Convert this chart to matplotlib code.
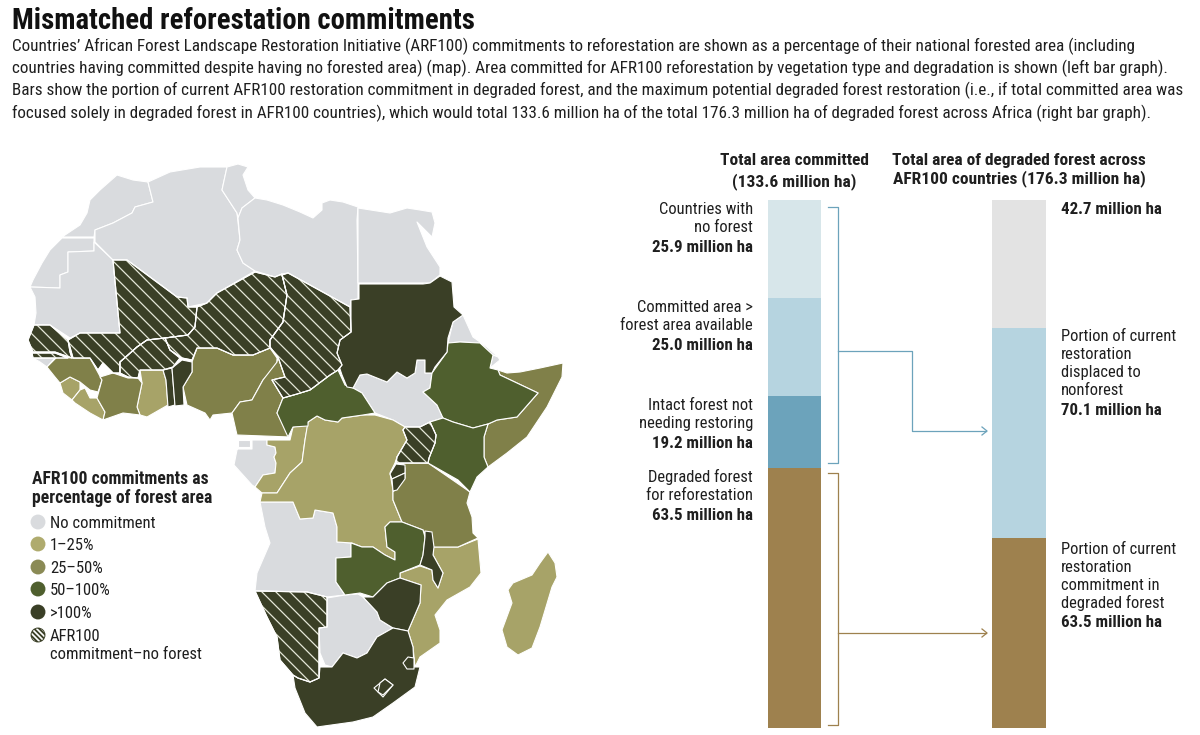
import numpy as np
import matplotlib
matplotlib.use("Agg")
import matplotlib.pyplot as plt
from matplotlib.collections import LineCollection
from matplotlib.patches import Polygon, Circle
from matplotlib.path import Path

plt.rcParams['font.family'] = ['Roboto Condensed', 'DejaVu Sans']

# bars: printed values and the heights as they are drawn in the picture
committed_labels = ["Countries with\nno forest", "Committed area >\nforest area available",
                    "Intact forest not\nneeding restoring", "Degraded forest\nfor reforestation"]
committed_printed = ["25.9 million ha", "25.0 million ha", "19.2 million ha", "63.5 million ha"]
committed_drawn = [24.8, 24.8, 18.2, 65.8]
committed_colors = ["#D7E6EA", "#B6D4E0", "#6CA3BB", "#9E814E"]

degraded_values = [42.7, 70.1, 63.5]
degraded_colors = ["#E3E3E3", "#B6D4E0", "#9E814E"]

# map outlines (pixel coords)
morocco = [(117,175),(100,190),(90,200),(87,213),(80,225),(62,237),(94,237),(95,230),(113,223),(132,213),(135,207),(153,202),(148,182),(133,180)]
w_sahara = [(62,238),(50,250),(42,263),(33,280),(30,287),(60,288),(60,275),(68,272),(68,252),(94,251),(94,238)]
mauritania = [(30,287),(35,297),(36,313),(34,325),(50,325),(70,338),(80,333),(120,333),(113,260),(94,242),(94,251),(68,252),(68,272),(60,275),(60,288)]
algeria = [(148,182),(170,172),(200,167),(227,167),(222,190),(237,213),(240,240),(237,250),(243,263),(255,271),(217,293),(207,303),(188,307),(187,298),(177,297),(127,260),(113,260),(95,242),(95,230),(113,223),(132,213),(135,207),(153,202)]
tunisia = [(227,167),(238,164),(248,167),(243,175),(248,190),(255,198),(242,208),(238,218),(237,213),(222,190)]
libya = [(255,198),(267,200),(283,205),(300,212),(313,218),(322,210),(322,203),(330,200),(343,202),(358,207),(357,220),(358,283),(358,299),(351,300),(350,307),(288,273),(282,274),(275,277),(255,271),(243,263),(237,250),(240,240),(238,218),(242,208)]
egypt = [(358,208),(390,213),(407,208),(420,210),(432,212),(435,223),(432,237),(417,222),(427,247),(440,267),(440,275),(430,283),(358,283)]
south_sudan = [(353,388),(360,375),(367,374),(377,378),(387,382),(397,372),(407,378),(415,373),(417,360),(425,360),(425,373),(432,373),(430,388),(423,392),(437,405),(443,418),(430,422),(420,427),(405,427),(393,420),(375,413),(362,393)]
eritrea = [(453,322),(463,315),(473,337),(487,347),(498,357),(493,355),(480,343),(460,342),(448,343)]
djibouti = [(493,355),(498,357),(500,360),(490,368)]
gabon = [(237,450),(234,465),(252,485),(255,487),(263,475),(275,473),(276,463),(274,457),(276,453),(275,447),(267,445),(267,440),(252,440),(252,449),(238,449)]
eq_guinea = [(238,440),(250,440),(250,447),(238,447)]
bissau = [(33,358),(55,358),(47,367),(40,362)]
angola = [(260,502),(293,502),(300,519),(313,518),(315,510),(333,513),(337,527),(337,542),(351,543),(351,557),(336,558),(336,582),(345,595),(327,597),(307,592),(255,591),(257,573),(270,543),(265,527)]
botswana = [(327,598),(345,595),(358,594),(363,597),(377,612),(380,620),(393,628),(377,637),(367,653),(357,658),(343,653),(332,667),(325,665),(320,653),(319,628),(327,627)]

guinea_sl = [(60,383),(70,377),(80,382),(80,390),(72,400),(63,393)]
liberia = [(72,400),(80,390),(85,388),(90,398),(97,398),(105,412),(103,420),(90,413),(75,403)]
ghana = [(140,370),(163,370),(166,380),(168,405),(147,417),(140,415),(137,407),(142,383)]
congo = [(255,487),(263,475),(275,473),(276,463),(274,457),(276,453),(275,447),(267,445),(267,440),(290,440),(293,427),(308,424),(305,440),(302,462),(290,473),(277,493),(270,493),(262,493)]
drc = [(308,422),(317,416),(325,420),(338,422),(342,418),(363,415),(375,415),(393,420),(405,427),(403,430),(407,440),(397,457),(395,463),(390,473),(393,490),(393,500),(402,522),(390,522),(385,527),(387,547),(395,552),(395,560),(385,555),(373,547),(362,547),(352,543),(337,542),(337,527),(333,513),(315,510),(313,518),(300,519),(293,502),(260,502),(262,493),(270,493),(277,493),(290,473),(302,462),(305,440)]
mozambique = [(433,547),(458,547),(478,539),(481,573),(470,587),(447,600),(435,615),(440,630),(440,643),(420,657),(415,667),(413,647),(408,631),(420,603),(421,585),(400,578),(400,573),(420,566),(432,570),(433,580),(438,588),(443,573),(433,555)]
madagascar = [(548,552),(555,563),(557,577),(552,587),(540,627),(532,648),(518,655),(507,647),(502,630),(512,603),(508,590),(513,583),(532,575),(540,563)]

guinea = [(47,367),(57,357),(73,358),(90,358),(95,367),(102,380),(98,392),(90,390),(80,382),(70,377),(60,383),(55,377)]
ivory_coast = [(97,398),(102,380),(100,377),(113,373),(128,378),(138,378),(142,383),(137,407),(140,415),(123,413),(103,420),(105,412)]
nigeria = [(192,362),(197,348),(217,348),(233,355),(253,355),(270,348),(277,358),(277,365),(263,380),(252,400),(240,402),(232,413),(213,415),(210,420),(205,413),(187,405),(183,387),(192,372)]
cameroon = [(278,357),(285,377),(272,380),(283,398),(277,413),(290,437),(237,435),(232,413),(240,402),(252,400),(263,380),(277,362)]
somalia = [(498,370),(507,373),(520,372),(540,368),(563,363),(562,377),(547,407),(527,437),(507,453),(488,467),(484,457),(484,437),(488,424),(497,420),(517,417),(538,393),(500,375)]
tanzania = [(403,463),(428,463),(470,492),(467,503),(472,517),(473,533),(478,538),(458,547),(433,547),(423,530),(402,522),(393,500),(393,492),(405,478),(405,468)]

car = [(283,398),(297,394),(310,390),(330,375),(338,370),(345,385),(353,388),(362,393),(375,413),(363,415),(342,418),(338,422),(325,420),(317,416),(308,422),(308,426),(293,427),(288,437),(277,413)]
ethiopia = [(448,343),(460,342),(480,343),(493,355),(490,368),(498,370),(500,375),(538,393),(517,417),(497,420),(488,424),(473,428),(453,422),(443,418),(437,405),(423,392),(430,388),(432,373),(447,352)]
kenya = [(430,422),(443,418),(453,422),(473,428),(488,424),(484,437),(484,457),(488,467),(477,477),(470,492),(458,480),(428,463),(429,458),(435,443),(436,435)]
zambia = [(351,543),(362,547),(373,547),(385,555),(395,560),(395,552),(387,547),(385,527),(390,522),(402,522),(423,530),(425,537),(423,555),(420,565),(400,573),(400,578),(387,583),(373,597),(360,593),(345,595),(336,582),(336,558),(351,557)]

sudan = [(359,284),(423,284),(430,283),(440,276),(452,282),(454,307),(463,315),(453,322),(448,338),(447,352),(435,367),(432,373),(425,373),(425,360),(417,360),(415,373),(407,378),(397,372),(387,382),(377,378),(367,374),(360,375),(353,388),(347,387),(342,375),(337,360),(337,353),(340,340),(351,332),(351,300),(359,299)]
togo = [(163,370),(172,368),(175,405),(168,407),(166,380)]
benin = [(172,368),(182,360),(192,362),(192,372),(183,387),(184,405),(175,406)]
rwanda = [(390,474),(396,464),(405,465),(405,473),(392,479)]
burundi = [(392,479),(405,473),(405,479),(397,490),(393,491)]
malawi = [(425,531),(432,532),(434,547),(433,555),(443,573),(438,588),(433,580),(432,570),(420,565),(423,555),(425,537)]
zimbabwe = [(363,597),(373,597),(387,583),(400,578),(421,585),(420,603),(408,631),(393,628),(380,620),(377,612)]
south_africa = [(319,678),(320,667),(332,667),(343,653),(357,658),(367,653),(377,637),(393,628),(408,631),(413,647),(414,667),(420,667),(415,687),(393,703),(373,717),(353,722),(317,727),(305,713),(295,688),(293,675),(298,678),(310,682)]
swaziland = [(403,663),(408,657),(414,658),(414,669),(407,669)]
lesotho = [(374,688),(385,679),(393,685),(383,697)]
lesotho_inner = [(380,683),(385,679),(393,685),(383,695),(378,692)]

senegal = [(28,340),(34,325),(50,325),(68,340),(70,352),(72,358),(55,352),(33,352)]
gambia_strip = [(32,353),(55,353),(68,358),(47,358),(33,358)]
mali = [(113,260),(127,260),(177,297),(187,298),(188,307),(197,307),(195,327),(188,335),(165,338),(147,340),(137,347),(128,355),(120,362),(120,373),(113,373),(103,363),(98,370),(90,358),(73,358),(68,340),(80,333),(120,333)]
burkina = [(120,362),(128,355),(137,347),(147,340),(165,338),(170,350),(180,358),(173,367),(163,370),(140,370),(138,378),(128,377),(120,373)]
niger = [(255,272),(275,277),(282,274),(287,295),(283,322),(270,340),(270,348),(253,355),(233,355),(217,348),(197,348),(192,360),(182,358),(170,350),(165,338),(188,335),(195,327),(197,307),(207,303),(217,293)]
chad = [(282,275),(288,273),(350,307),(351,332),(340,340),(337,353),(342,365),(338,370),(330,375),(310,390),(297,394),(283,398),(272,380),(285,377),(278,357),(270,347),(270,340),(283,322),(287,295)]
namibia = [(255,591),(307,592),(327,597),(327,627),(319,628),(319,678),(310,682),(298,678),(293,675),(280,660),(277,637),(267,617)]
uganda = [(405,427),(420,427),(430,422),(436,435),(435,443),(429,458),(428,463),(396,463),(397,457),(407,440),(403,430)]

no_commit = [morocco, w_sahara, mauritania, algeria, tunisia, libya, egypt, south_sudan, eritrea, djibouti,
             gabon, eq_guinea, bissau, angola, botswana]
pct_1_25 = [guinea_sl, liberia, ghana, congo, drc, mozambique, madagascar]
pct_25_50 = [guinea, ivory_coast, nigeria, cameroon, somalia, tanzania]
pct_50_100 = [car, ethiopia, kenya, zambia]
pct_over_100 = [sudan, togo, benin, rwanda, burundi, malawi, zimbabwe, south_africa, swaziland, lesotho, lesotho_inner]
no_forest = [senegal, gambia_strip, mali, burkina, niger, chad, namibia, uganda]

C_NONE, C_1, C_25, C_50, C_100 = "#D9DBDE", "#A7A368", "#808049", "#4F5F2E", "#3A3F26"

legend_labels = ["No commitment", "1–25%", "25–50%", "50–100%", ">100%", "AFR100\ncommitment–no forest"]

title = "Mismatched reforestation commitments"
body_lines = [
    "Countries’ African Forest Landscape Restoration Initiative (ARF100) commitments to reforestation are shown as a percentage of their national forested area (including",
    "countries having committed despite having no forested area) (map). Area committed for AFR100 reforestation by vegetation type and degradation is shown (left bar graph).",
    "Bars show the portion of current AFR100 restoration commitment in degraded forest, and the maximum potential degraded forest restoration (i.e., if total committed area was",
    "focused solely in degraded forest in AFR100 countries), which would total 133.6 million ha of the total 176.3 million ha of degraded forest across Africa (right bar graph).",
]

W, H = 1200, 735
TEXT = "#1f1f1f"
LABEL_SIZE = 11.9
VALUE_SIZE = 12.2
HEAD_SIZE = 12.5
fig = plt.figure(figsize=(W / 100, H / 100), dpi=100)
ax = fig.add_axes([0, 0, 1, 1])
ax.set_xlim(0, W)
ax.set_ylim(H, 0)
ax.axis('off')

# map
for group, col in [(no_commit, C_NONE), (pct_1_25, C_1), (pct_25_50, C_25), (pct_50_100, C_50),
                   (pct_over_100, C_100), (no_forest, C_100)]:
    for poly in group:
        ax.add_patch(Polygon(poly, closed=True, facecolor=col, edgecolor='white', lw=0.8, joinstyle='round', zorder=2))

hatch_path = Path.make_compound_path(*[Path(p + [p[0]], closed=True) for p in no_forest])
segs = [[(0, c), (W, W + c)] for c in np.arange(-300, 500, 14)]
hatch = LineCollection(segs, colors='#e4e6d8', linewidths=0.9, zorder=3)
ax.add_collection(hatch)
hatch.set_clip_path(hatch_path, transform=ax.transData)
for poly in no_forest:
    ax.add_patch(Polygon(poly, closed=True, facecolor='none', edgecolor='white', lw=0.8, zorder=4))

# heading
ax.text(12, 29, title, fontsize=20.7, fontweight='bold', color='#111111', va='baseline')
for line, y in zip(body_lines, [51, 73, 95, 118]):
    ax.text(12, y, line, fontsize=12.35, fontweight=400, color=TEXT, va='baseline')

# legend
ax.text(32, 484, "AFR100 commitments as", fontsize=12.7, fontweight='bold', color=TEXT, va='baseline')
ax.text(32, 503, "percentage of forest area", fontsize=12.7, fontweight='bold', color=TEXT, va='baseline')
legend_y = [522, 544, 567, 589, 612, 635]
legend_cols = [C_NONE, "#AFAB6E", "#8A8A55", C_50, C_100, C_100]
ax.scatter([38] * 6, legend_y, s=115, c=legend_cols, linewidths=0, zorder=3)
clip_dot = Circle((38, legend_y[5]), 6.5, transform=ax.transData)
dot_hatch = LineCollection([[(0, c), (W, W + c)] for c in np.arange(legend_y[5] - 38 - 10, legend_y[5] - 38 + 11, 5)],
                           colors='white', linewidths=1.2, zorder=4)
ax.add_collection(dot_hatch)
dot_hatch.set_clip_path(clip_dot)
for lab, y in zip(legend_labels, legend_y):
    for j, ln in enumerate(lab.split("\n")):
        ax.text(50, y + 6 + j * 18, ln, fontsize=12, color=TEXT, va='baseline')

# stacked bars
bar_top, bar_bottom = 200, 728
def bar_axes(x0, x1, total):
    a = fig.add_axes([x0 / W, 1 - bar_bottom / H, (x1 - x0) / W, (bar_bottom - bar_top) / H])
    a.set_xlim(-0.5, 0.5)
    a.set_ylim(total, 0)
    a.axis('off')
    return a

ax_left = bar_axes(768, 821, sum(committed_drawn))
bottom = 0
for h, c in zip(committed_drawn, committed_colors):
    ax_left.bar(0, h, bottom=bottom, width=1, color=c, linewidth=0)
    bottom += h

ax_right = bar_axes(992, 1046, sum(degraded_values))
bottom = 0
for h, c in zip(degraded_values, degraded_colors):
    ax_right.bar(0, h, bottom=bottom, width=1, color=c, linewidth=0)
    bottom += h

# bar labels
for lab, val, y in zip(committed_labels, committed_printed, [214, 312, 410, 482]):
    l1, l2 = lab.split("\n")
    ax.text(753, y, l1, ha='right', fontsize=LABEL_SIZE, color=TEXT, va='baseline')
    ax.text(753, y + 18, l2, ha='right', fontsize=LABEL_SIZE, color=TEXT, va='baseline')
    ax.text(753, y + 38, val, ha='right', fontsize=VALUE_SIZE, fontweight='bold', color=TEXT, va='baseline')

ax.text(794, 165, "Total area committed", ha='center', fontsize=HEAD_SIZE, fontweight='bold', color=TEXT, va='baseline')
ax.text(794, 186, "(133.6 million ha)", ha='center', fontsize=HEAD_SIZE, fontweight='bold', color=TEXT, va='baseline')
ax.text(1019, 165, "Total area of degraded forest across", ha='center', fontsize=HEAD_SIZE, fontweight='bold', color=TEXT, va='baseline')
ax.text(1019, 183, "AFR100 countries (176.3 million ha)", ha='center', fontsize=HEAD_SIZE, fontweight='bold', color=TEXT, va='baseline')

ax.text(1061, 214, "42.7 million ha", fontsize=VALUE_SIZE, fontweight='bold', color=TEXT, va='baseline')
for ln, y in zip(["Portion of current", "restoration", "displaced to", "nonforest"], [341, 359, 377, 395]):
    ax.text(1061, y, ln, fontsize=LABEL_SIZE, color=TEXT, va='baseline')
ax.text(1061, 415, "70.1 million ha", fontsize=VALUE_SIZE, fontweight='bold', color=TEXT, va='baseline')
for ln, y in zip(["Portion of current", "restoration", "commitment in", "degraded forest"], [554, 572, 590, 608]):
    ax.text(1061, y, ln, fontsize=LABEL_SIZE, color=TEXT, va='baseline')
ax.text(1061, 627, "63.5 million ha", fontsize=VALUE_SIZE, fontweight='bold', color=TEXT, va='baseline')

# brackets and arrows
BLUE, BROWN = "#6CA3BB", "#9E814E"
ax.plot([828, 838, 838, 828], [207, 207, 463, 463], color=BLUE, lw=0.9, zorder=5)
ax.plot([838, 912, 912, 986], [351, 351, 431, 431], color=BLUE, lw=0.9, zorder=5)
ax.plot([982, 987, 982], [427, 431, 435], color=BLUE, lw=0.9, zorder=5)
ax.plot([828, 838, 838, 828], [473, 473, 725, 725], color=BROWN, lw=0.9, zorder=5)
ax.plot([838, 986], [633, 633], color=BROWN, lw=0.9, zorder=5)
ax.plot([982, 987, 982], [629, 633, 637], color=BROWN, lw=0.9, zorder=5)

fig.savefig("out.png", dpi=100)
